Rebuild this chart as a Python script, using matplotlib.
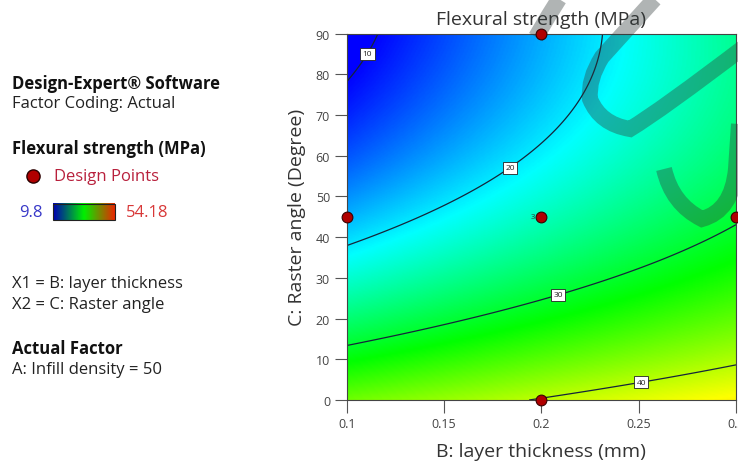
import matplotlib
matplotlib.use('Agg')
import matplotlib.pyplot as plt
import numpy as np
from matplotlib.colors import LinearSegmentedColormap
from matplotlib.path import Path
from matplotlib.patches import PathPatch
from matplotlib.transforms import Affine2D

plt.rcParams['font.family'] = ['Open Sans', 'DejaVu Sans']

# response range and design points
resp_min, resp_max = 9.8, 54.18
pt_thick = [0.1, 0.2, 0.2, 0.2, 0.3]
pt_angle = [45, 90, 45, 0, 45]

# points: thickness, angle, strength
ct_thick = [0.100, 0.117, 0.110,
            0.100, 0.127, 0.144, 0.183, 0.189, 0.221, 0.223, 0.232,
            0.100, 0.150, 0.208, 0.250, 0.300,
            0.200, 0.251, 0.300]
ct_angle = [78.9, 90.0, 85.3,
            38.3, 42.8, 44.5, 57.7, 58.5, 74.7, 77.2, 90.0,
            13.6, 18.3, 26.7, 32.2, 43.2,
            0.0, 5.2, 8.0]
ct_level = [10, 10, 10,
            20, 20, 20, 20, 20, 20, 20, 20,
            30, 30, 30, 30, 30,
            40, 40, 40]
levels = [10, 20, 30, 40]
label_pos = [(0.110, 85.3), (0.183, 57.7), (0.208, 26.7), (0.251, 5.2)]

# quadratic response surface in coded units
def terms(b, c):
    x1 = (np.asarray(b) - 0.2) / 0.1
    x2 = (np.asarray(c) - 45.0) / 45.0
    return np.stack([np.ones_like(x1), x1, x2, x1 * x2, x1 ** 2, x2 ** 2], axis=-1)

coef, *_ = np.linalg.lstsq(terms(ct_thick, ct_angle), np.array(ct_level, float), rcond=None)

bb = np.linspace(0.1, 0.3, 300)
cc = np.linspace(0, 90, 300)
B, C = np.meshgrid(bb, cc)
Z = terms(B, C) @ coef

cmap = LinearSegmentedColormap.from_list('de', ['#0000ff', '#00ffff', '#00ff00', '#ffff00', '#ff0000'])
bar_cmap = LinearSegmentedColormap.from_list('bar', ['#0000b4', '#00f000', '#e82800'])

fig = plt.figure(figsize=(7.38, 4.64), dpi=100)
ax = fig.add_axes([0.4698, 0.1358, 0.5275, 0.7894])
ax.imshow(Z, extent=[0.1, 0.3, 0, 90], origin='lower', aspect='auto',
          cmap=cmap, vmin=resp_min, vmax=resp_max, interpolation='bilinear')
cs = ax.contour(B, C, Z, levels=levels, colors='#15253a', linewidths=0.9)
lbls = ax.clabel(cs, fmt='%d', fontsize=6, inline=False, manual=label_pos)
for t in lbls:
    t.set_rotation(0)
    t.set_color('#222222')
    t.set_bbox(dict(facecolor='white', edgecolor='#222222', pad=1.8, linewidth=0.6))

ax.set_xlim(0.1, 0.3)
ax.set_ylim(0, 90)
ax.set_xticks([0.1, 0.15, 0.2, 0.25, 0.3])
ax.set_xticklabels(['0.1', '0.15', '0.2', '0.25', '0.3'])
ax.set_yticks(range(0, 91, 10))
ax.tick_params(length=9, width=0.8, color='#555555', labelsize=9, labelcolor='#444444', pad=3)
for s in ax.spines.values():
    s.set_color('#444444')
    s.set_linewidth(0.8)
ax.set_title('Flexural strength (MPa)', fontsize=14, color='#333333', pad=7)
ax.set_xlabel('B: layer thickness (mm)', fontsize=14, color='#333333', labelpad=9)
ax.set_ylabel('C: Raster angle (Degree)', fontsize=14, color='#333333', labelpad=7)

# left side information panel
def ftxt(px, py, s, **kw):
    fig.text(px / 738, 1 - py / 464, s, va='center', ha='left', **kw)

fs = 12
ftxt(12, 84, 'Design-Expert® Software', fontsize=fs, fontweight='bold', color='#111111')
ftxt(12, 104, 'Factor Coding: Actual', fontsize=fs, color='#222222')
ftxt(12, 149, 'Flexural strength (MPa)', fontsize=fs, fontweight='bold', color='#111111')
leg = fig.add_axes([0, 0, 1, 1], facecolor='none')
leg.axis('off')
leg.scatter([33], [177], s=90, c='#b00000', edgecolors='#2a0000', linewidths=1.0)
ftxt(54, 177, 'Design Points', fontsize=fs, color='#b8203c')
ftxt(19, 213, '9.8', fontsize=fs, color='#3838c8')
ftxt(126, 213, '54.18', fontsize=fs, color='#d83838')
leg.imshow(np.linspace(0, 1, 100)[None, :], extent=[53, 115, 221, 205], cmap=bar_cmap, aspect='auto')
leg.add_patch(plt.Rectangle((53, 205), 62, 16, fill=False, edgecolor='#222222', linewidth=0.8))
leg.set_xlim(0, 738)
leg.set_ylim(464, 0)
ftxt(12, 284, 'X1 = B: layer thickness', fontsize=fs, color='#222222')
ftxt(12, 305, 'X2 = C: Raster angle', fontsize=fs, color='#222222')
ftxt(12, 349, 'Actual Factor', fontsize=fs, fontweight='bold', color='#111111')
ftxt(12, 370, 'A: Infill density = 50', fontsize=fs, color='#222222')

# watermark strokes, in pixel coordinates from the top-left
px_tf = Affine2D().scale(1 / 738, -1 / 464).translate(0, 1) + fig.transFigure
M, L, C3 = Path.MOVETO, Path.LINETO, Path.CURVE3
strokes = [
    Path([(536, 38), (549, 16), (564, -8)], [M, L, L]),
    Path([(660, -6), (602, 58), (588, 80), (590, 100), (600, 125), (630, 130),
          (660, 112), (748, 45)], [M, L, C3, C3, C3, C3, C3, L]),
    Path([(664, 170), (672, 205), (702, 220), (732, 212), (736, 170), (740, 110)],
         [M, C3, C3, C3, C3, L]),
]
for p in strokes:
    fig.add_artist(PathPatch(p, transform=px_tf, fill=False, edgecolor='#303a3a',
                             alpha=0.38, linewidth=11.5, capstyle='butt', zorder=10))

# design points sit above everything else
pts_ax = fig.add_axes(ax.get_position(), facecolor='none', zorder=20)
pts_ax.set_xlim(ax.get_xlim())
pts_ax.set_ylim(ax.get_ylim())
pts_ax.axis('off')
pts_ax.scatter(pt_thick, pt_angle, s=60, c='#b00000', edgecolors='#3a0000', linewidths=0.8,
               clip_on=False)
pts_ax.text(0.2 - 0.0035, 45, '3', fontsize=5.5, ha='right', va='center', color='#333333')

fig.savefig('out.png', dpi=100)
